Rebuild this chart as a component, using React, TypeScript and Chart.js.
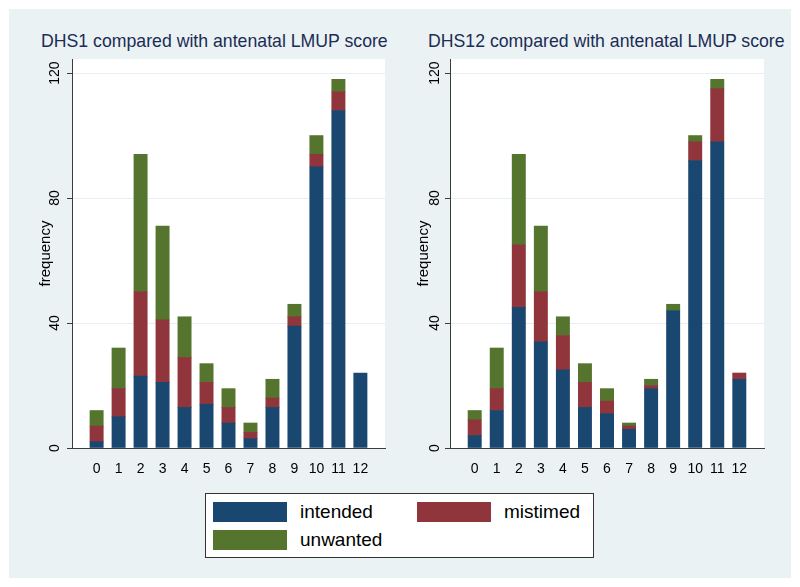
import React, { useEffect, useRef } from "react";
import { Chart, registerables } from "chart.js";

Chart.register(...registerables);

const categories = [0, 1, 2, 3, 4, 5, 6, 7, 8, 9, 10, 11, 12];
const dhs1Intended = [2, 10, 23, 21, 13, 14, 8, 3, 13, 39, 90, 108, 24];
const dhs1Mistimed = [5, 9, 27, 20, 16, 7, 5, 2, 3, 3, 4, 6, 0];
const dhs1Unwanted = [5, 13, 44, 30, 13, 6, 6, 3, 6, 4, 6, 4, 0];
const dhs12Intended = [4, 12, 45, 34, 25, 13, 11, 6, 19, 44, 92, 98, 22];
const dhs12Mistimed = [5, 7, 20, 16, 11, 8, 4, 1, 1, 0, 6, 17, 2];
const dhs12Unwanted = [3, 13, 29, 21, 6, 6, 4, 1, 2, 2, 2, 3, 0];
const yTicks = [0, 40, 80, 120];
const seriesNames = ["intended", "mistimed", "unwanted"];
const seriesColors = ["#1a476f", "#90353b", "#55752f"];
const panelTitles = [
  "DHS1 compared with antenatal LMUP score",
  "DHS12 compared with antenatal LMUP score",
];
const yAxisTitle = "frequency";

const FONT = "'Liberation Sans', Arial, Helvetica, sans-serif";

function BarPanel(props: {
  series: number[][];
  left: number;
  width: number;
  padRight: number;
  tickPad: number;
}) {
  const ref = useRef<HTMLCanvasElement | null>(null);
  useEffect(() => {
    if (!ref.current) return;
    const chart = new Chart(ref.current, {
      type: "bar",
      data: {
        datasets: props.series.map((vals, si) => ({
          label: seriesNames[si],
          data: categories.map((c, i) => ({ x: c, y: vals[i] === 0 ? null : vals[i] })),
          backgroundColor: seriesColors[si],
          borderWidth: 0,
          barThickness: 13.3,
        })),
      },
      options: {
        animation: false,
        responsive: false,
        devicePixelRatio: 1,
        layout: { padding: { left: 0, right: props.padRight, top: 50, bottom: 0 } },
        plugins: {
          legend: { display: false },
          tooltip: { enabled: false },
          title: { display: false },
        },
        scales: {
          x: {
            type: "linear",
            stacked: true,
            offset: false,
            min: -1.12,
            max: 13.12,
            afterBuildTicks: (axis: any) => {
              axis.ticks = categories.map((v) => ({ value: v }));
            },
            afterFit: (axis: any) => {
              axis.height = 32;
            },
            grid: { display: false },
            border: { display: true, color: "#3c3c3c", width: 1 },
            ticks: {
              autoSkip: false,
              maxRotation: 0,
              padding: 5,
              color: "#000",
              font: { family: FONT, size: 14 },
              callback: (v: any) => String(v),
            },
          },
          y: {
            type: "linear",
            stacked: true,
            min: 0,
            max: 124.5,
            afterBuildTicks: (axis: any) => {
              axis.ticks = yTicks.map((v) => ({ value: v }));
            },
            afterFit: (axis: any) => {
              axis.width = 63;
            },
            grid: {
              display: true,
              color: "#e6eff1",
              lineWidth: 1,
              tickColor: "#3c3c3c",
              tickLength: 5,
              drawTicks: true,
            },
            border: { display: true, color: "#3c3c3c", width: 1 },
            ticks: {
              minRotation: 90,
              maxRotation: 90,
              crossAlign: "center",
              padding: props.tickPad,
              color: "#000",
              font: { family: FONT, size: 14 },
              callback: (v: any) => String(v),
            },
            title: {
              display: true,
              text: yAxisTitle,
              color: "#000",
              font: { family: FONT, size: 15 },
              padding: { top: 28, bottom: 0 },
            },
          },
        },
      } as any,
    });
    return () => chart.destroy();
  }, []);
  return (
    <canvas
      ref={ref}
      width={props.width}
      height={471}
      style={{
        position: "absolute",
        left: props.left,
        top: 9,
        width: props.width,
        height: 471,
        display: "block",
      }}
    />
  );
}

function LegendItem(props: { x: number; y: number; color: string; label: string }) {
  return (
    <>
      <div
        style={{
          position: "absolute",
          left: props.x,
          top: props.y,
          width: 74,
          height: 20,
          background: props.color,
        }}
      />
      <div
        style={{
          position: "absolute",
          left: props.x + 87,
          top: props.y - 1,
          height: 22,
          lineHeight: "22px",
          fontFamily: FONT,
          fontSize: 19,
          color: "#000",
          whiteSpace: "nowrap",
        }}
      >
        {props.label}
      </div>
    </>
  );
}

const titleStyle = {
  position: "absolute" as const,
  top: 32,
  lineHeight: "18px",
  fontFamily: FONT,
  fontSize: 17.7,
  color: "#1c2c55",
  whiteSpace: "nowrap" as const,
};

export default function App() {
  return (
    <div
      style={{
        position: "fixed",
        left: 0,
        top: 0,
        width: 800,
        height: 587,
        background: "#ffffff",
        overflow: "hidden",
      }}
    >
      <div
        style={{
          position: "absolute",
          left: 9,
          top: 9,
          width: 782,
          height: 569,
          background: "#eaf2f3",
        }}
      />
      <div style={{ ...titleStyle, left: 41 }}>{panelTitles[0]}</div>
      <div style={{ ...titleStyle, left: 428 }}>{panelTitles[1]}</div>
      <div
        style={{
          position: "absolute",
          left: 72,
          top: 59,
          width: 313,
          height: 389,
          background: "#ffffff",
        }}
      />
      <div
        style={{
          position: "absolute",
          left: 450,
          top: 59,
          width: 314,
          height: 389,
          background: "#ffffff",
        }}
      />
      <BarPanel
        series={[dhs1Intended, dhs1Mistimed, dhs1Unwanted]}
        left={9}
        width={378}
        padRight={2}
        tickPad={0}
      />
      <BarPanel
        series={[dhs12Intended, dhs12Mistimed, dhs12Unwanted]}
        left={387}
        width={391}
        padRight={14}
        tickPad={-2}
      />
      <div
        style={{
          position: "absolute",
          left: 205,
          top: 493,
          width: 389,
          height: 65,
          boxSizing: "border-box",
          border: "1px solid #333",
          background: "#ffffff",
        }}
      />
      <LegendItem x={213} y={502} color={seriesColors[0]} label={seriesNames[0]} />
      <LegendItem x={417} y={502} color={seriesColors[1]} label={seriesNames[1]} />
      <LegendItem x={213} y={530} color={seriesColors[2]} label={seriesNames[2]} />
    </div>
  );
}
